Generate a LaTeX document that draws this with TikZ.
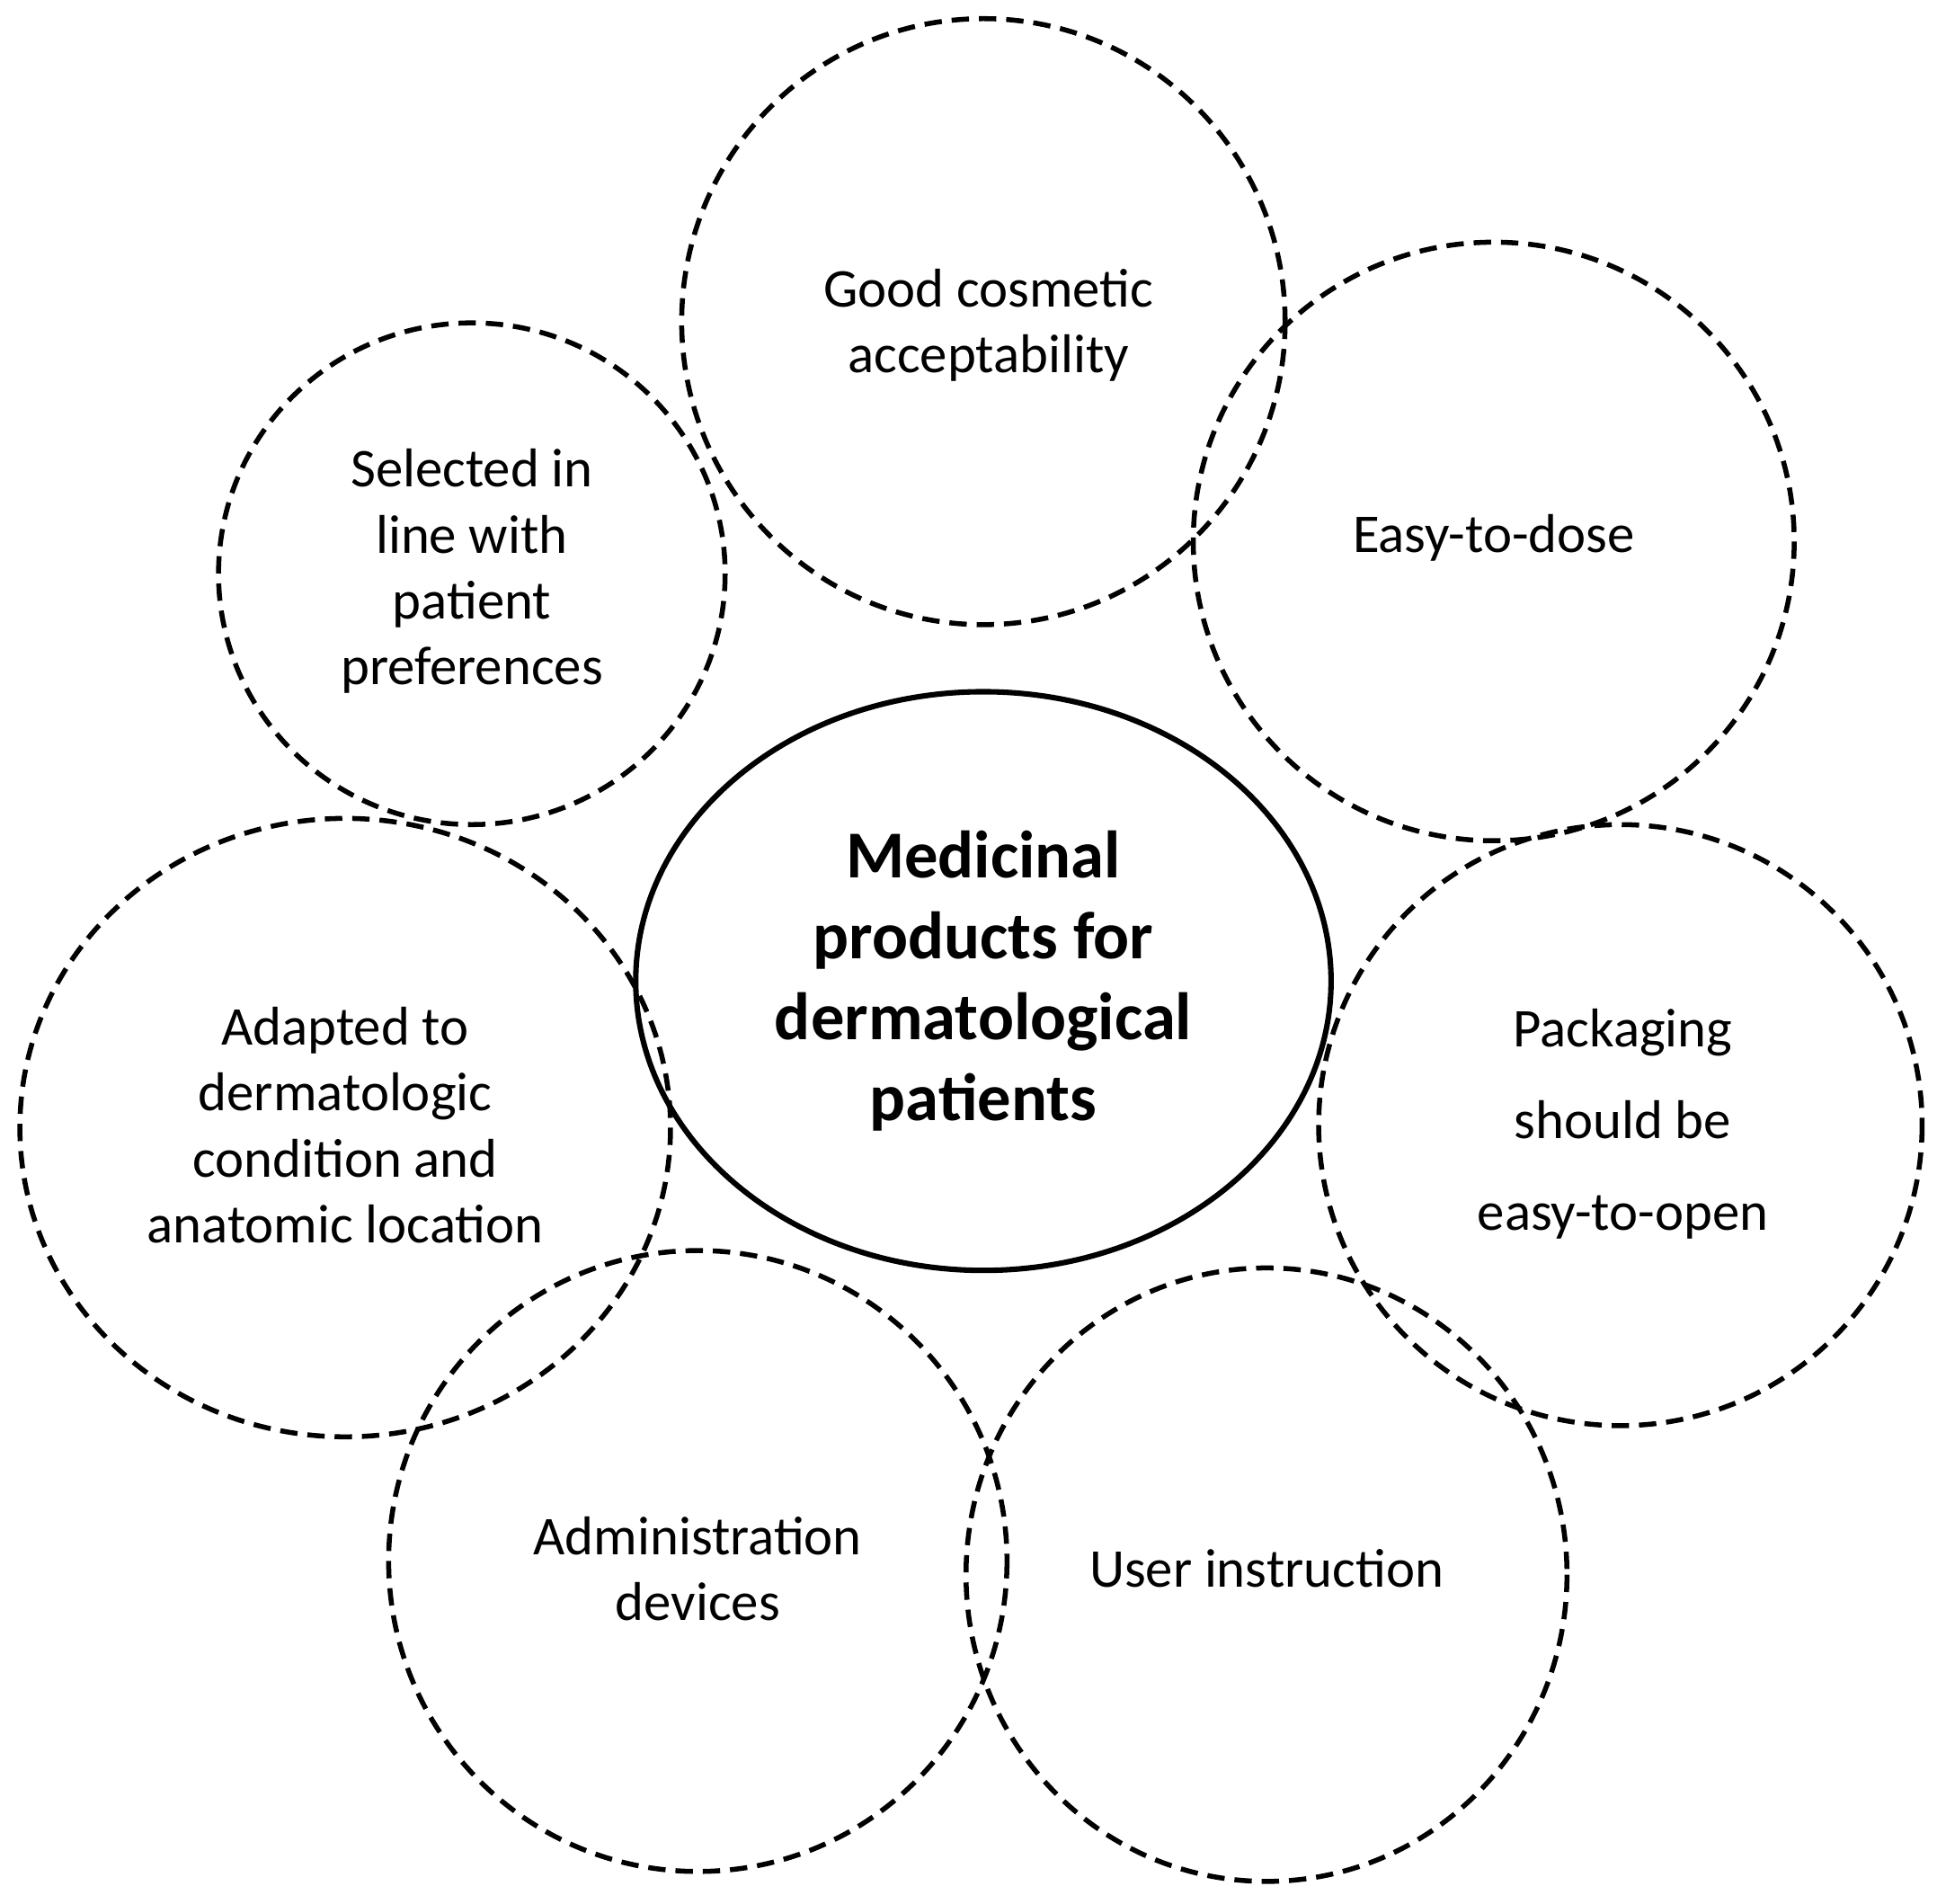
\documentclass[tikz,border=0pt]{standalone}
\usepackage{fontspec}
\setmainfont{Carlito}
\begin{document}
\begin{tikzpicture}[x=0.5pt,y=-0.5pt,
  bub/.style={draw,dashed,line width=2pt,dash pattern=on 7pt off 4pt},
  lbl/.style={align=center,font=\fontsize{22}{26.5}\selectfont}]
\useasboundingbox (0,0) rectangle (1560,1532.5);
\draw[line width=2.2pt] (792,790) ellipse [x radius=280,y radius=233];
\node[align=center,font=\fontsize{27}{32.5}\selectfont\bfseries] (c) at (792,790) {Medicinal\\products for\\dermatological\\patients};
\draw[bub] (792,259) ellipse [x radius=243,y radius=244];
\draw[bub] (1203,436) ellipse [x radius=242,y radius=241];
\draw[bub] (380,462) ellipse [x radius=204,y radius=202];
\draw[bub] (278,908) ellipse [x radius=262,y radius=249];
\draw[bub] (1305,906) ellipse [x radius=243,y radius=242];
\draw[bub] (562,1257) ellipse [x radius=249,y radius=250];
\draw[bub] (1020,1268) ellipse [x radius=242,y radius=247];
\node[lbl] (a) at (796,262) {Good cosmetic\\acceptability};
\node[lbl] (b) at (1203,433) {Easy-to-dose};
\node[lbl] (s) at (380,460) {Selected in\\line with\\patient\\preferences};
\node[lbl] (d) at (278,906) {Adapted to\\dermatologic\\condition and\\anatomic location};
\node[lbl,font=\fontsize{22}{37}\selectfont] (p) at (1307,905) {Packaging\\should be\\easy-to-open};
\node[lbl] (m) at (562,1263) {Administration\\devices};
\node[lbl] (u) at (1020,1263) {User instruction};
\end{tikzpicture}
\end{document}
